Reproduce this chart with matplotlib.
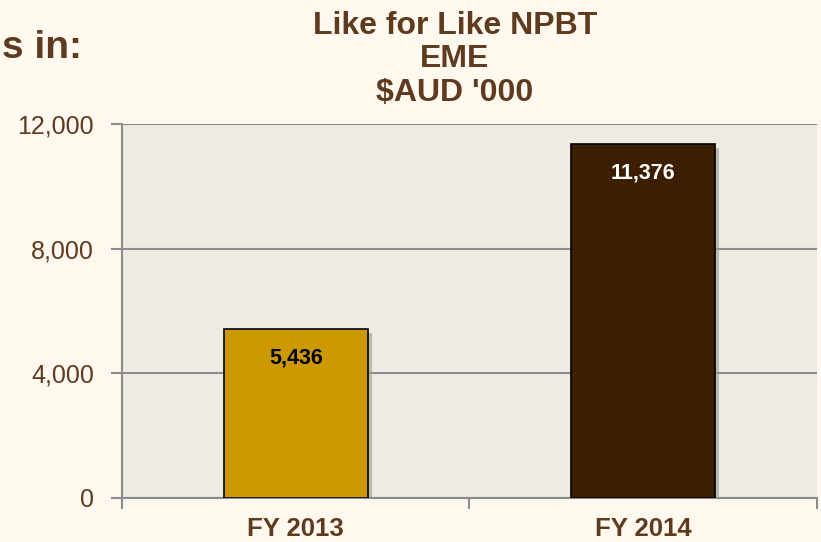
import matplotlib
matplotlib.use("Agg")
import matplotlib.pyplot as plt
import matplotlib.patheffects as pe
from matplotlib.ticker import FuncFormatter, FixedLocator

categories = ["FY 2013", "FY 2014"]
npbt = [5436, 11376]
bar_colors = ["#CC9900", "#3C1F00"]
yticks = [0, 4000, 8000, 12000]
title = "Like for Like NPBT\nEME\n$AUD '000"

brown = "#5E3B1F"
grid_grey = "#8C8C8C"

plt.rcParams['font.family'] = ['Liberation Sans', 'DejaVu Sans']

fig = plt.figure(figsize=(8.21, 5.42), dpi=100, facecolor="#FEF8EF")
ax = fig.add_axes([0.1486, 0.0812, 0.8464, 0.6898])
ax.set_facecolor("#EDEBE2")

x = list(range(len(categories)))
bars = ax.bar(x, npbt, width=0.414, color=bar_colors, edgecolor="black",
              linewidth=1.2, zorder=3)
for b in bars:
    b.set_path_effects([pe.SimplePatchShadow(offset=(3, -3), shadow_rgbFace="#9A9A90", alpha=0.6),
                        pe.Normal()])

for xi, v in zip(x, npbt):
    ax.annotate("{:,}".format(v), (xi, v), xytext=(0, -29), textcoords="offset pixels",
                ha="center", va="center", color="black" if xi == 0 else "white",
                fontsize=15.5, fontweight="bold",
                family=['Liberation Sans Narrow', 'Liberation Sans', 'DejaVu Sans'], zorder=4)

ax.set_xlim(-0.5, len(categories) - 0.5)
ax.set_ylim(0, 12000)
ax.set_yticks(yticks)
ax.yaxis.set_major_formatter(FuncFormatter(lambda v, p: "{:,}".format(int(v))))
ax.yaxis.grid(True, color=grid_grey, linewidth=1.5, zorder=1)
ax.set_axisbelow(True)

ax.set_xticks(x)
ax.set_xticklabels(categories, fontsize=18.5, fontweight="bold", color=brown)
ax.xaxis.set_minor_locator(FixedLocator([-0.5, 0.5, 1.5]))
ax.tick_params(axis="x", which="major", length=0, pad=14)
ax.tick_params(axis="x", which="minor", length=8, width=1.5, color=grid_grey, direction="out")
ax.tick_params(axis="y", length=8, width=1.5, color=grid_grey, labelsize=18,
               labelcolor=brown, pad=12)

for s in ["top", "right"]:
    ax.spines[s].set_visible(False)
for s in ["left", "bottom"]:
    ax.spines[s].set_color(grid_grey)
    ax.spines[s].set_linewidth(1.5)

fig.text(0.554, 0.891, title, ha="center", va="center", fontsize=23,
         fontweight="bold", color=brown, linespacing=1.15)
fig.text(0.002, 0.912, "s in:", ha="left", va="center", fontsize=28,
         fontweight="bold", color=brown)

fig.savefig("out.png", dpi=100, facecolor=fig.get_facecolor())
